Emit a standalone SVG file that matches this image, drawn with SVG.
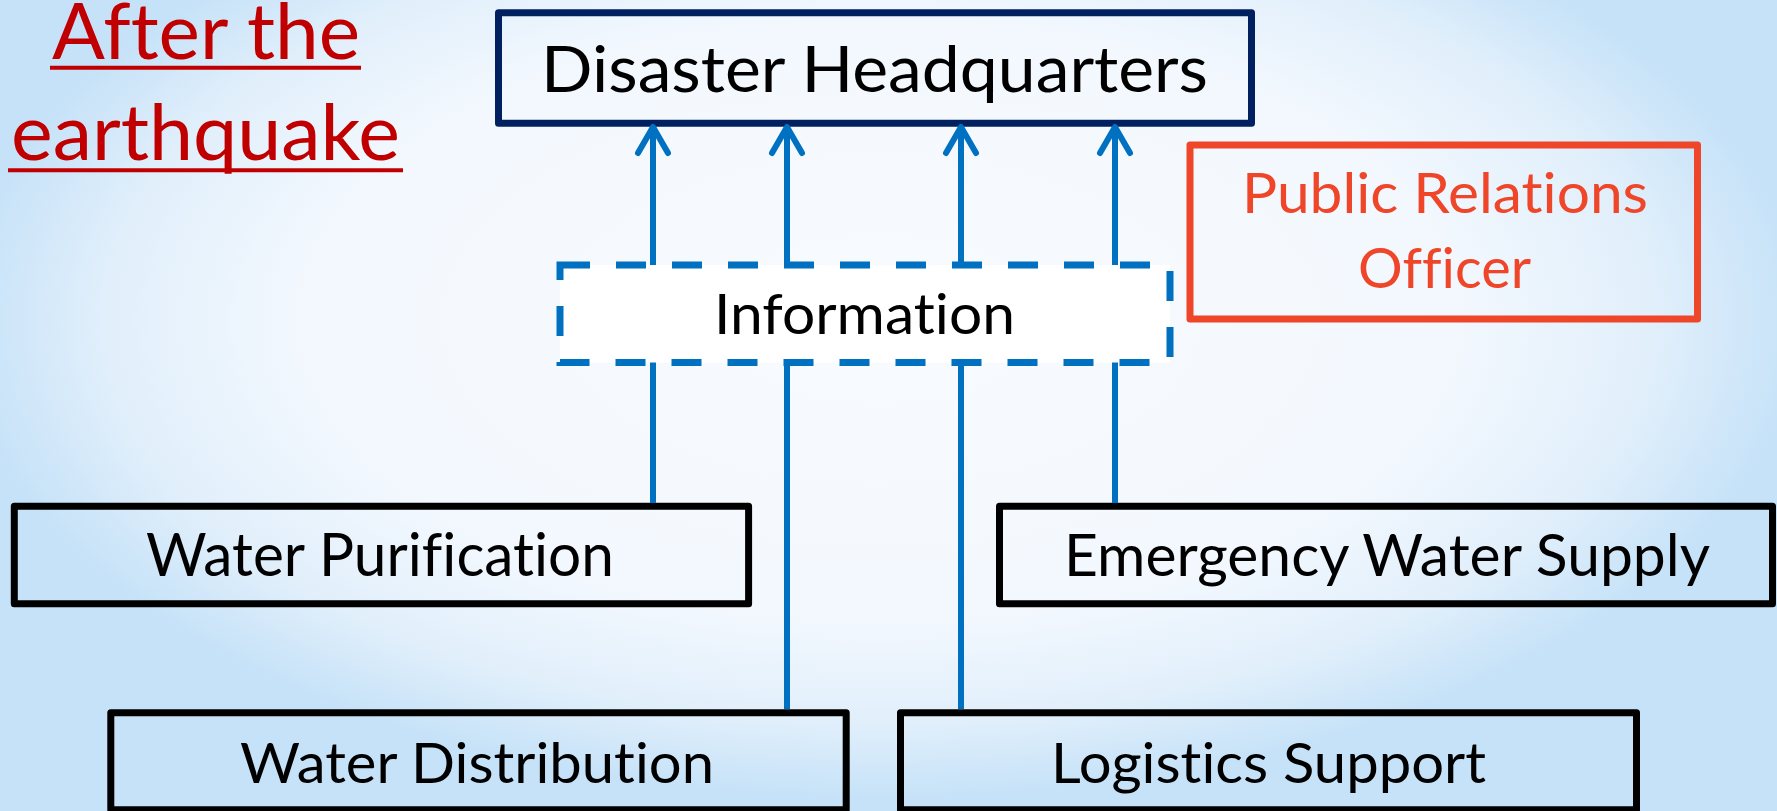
<svg xmlns="http://www.w3.org/2000/svg" width="1777" height="811" viewBox="0 0 1777 811">
  <style>
    .lbl { font-family: Lato, "Open Sans", "Liberation Sans", sans-serif; fill: #000; font-variant-ligatures: none; }
    .box { fill: none; stroke: #000; stroke-width: 7; stroke-linejoin: round; }
    .conn { fill: none; stroke: #0070C0; stroke-width: 6; }
    .title { font-family: Lato, "Open Sans", "Liberation Sans", sans-serif; fill: #C00000; font-size: 77px; font-variant-ligatures: none; }
    .uline { stroke: #C00000; stroke-width: 4; }
    .pr { fill: #EF4529; }
  </style>
  <defs>
    <radialGradient id="bg" gradientUnits="userSpaceOnUse" cx="880" cy="320" r="920" gradientTransform="translate(880 320) scale(1 0.52) translate(-880 -320)">
      <stop offset="0" stop-color="#F8FBFE"/>
      <stop offset="0.62" stop-color="#F3F8FE"/>
      <stop offset="0.84" stop-color="#E1EFFB"/>
      <stop offset="1" stop-color="#C6E2F8"/>
    </radialGradient>
    <marker id="arrow" markerUnits="userSpaceOnUse" markerWidth="60" markerHeight="60" viewBox="-40 -30 60 60" refX="0" refY="0" orient="auto" overflow="visible">
      <path d="M-26,-15 L0,0 L-26,15" fill="none" stroke="#0070C0" stroke-width="6" stroke-linecap="round" stroke-linejoin="round"/>
    </marker>
  </defs>

  <rect x="0" y="0" width="1777" height="811" fill="url(#bg)"/>

  <g id="title">
    <text class="title" x="52" y="59" textLength="308" lengthAdjust="spacingAndGlyphs">After the</text>
    <line class="uline" x1="50" y1="67.7" x2="361" y2="67.7"/>
    <text class="title" x="11" y="160" textLength="389" lengthAdjust="spacingAndGlyphs">earthquake</text>
    <line class="uline" x1="8" y1="170.3" x2="403" y2="170.3"/>
  </g>

  <g id="disaster-headquarters">
    <rect x="498.5" y="12.8" width="753" height="110.4" fill="none" stroke="#002060" stroke-width="7" stroke-linejoin="round"/>
    <text class="lbl" x="541" y="91.7" font-size="63" textLength="667" lengthAdjust="spacingAndGlyphs">Disaster Headquarters</text>
  </g>

  <g id="public-relations-officer">
    <rect x="1190" y="145" width="507.5" height="174" fill="none" stroke="#EF4529" stroke-width="7" stroke-linejoin="round"/>
    <text class="lbl pr" x="1242" y="213.3" font-size="56" textLength="406" lengthAdjust="spacingAndGlyphs">Public Relations</text>
    <text class="lbl pr" x="1358" y="288.3" font-size="56" textLength="173" lengthAdjust="spacingAndGlyphs">Officer</text>
  </g>

  <g id="water-purification">
    <rect class="box" x="14.3" y="506.2" width="734.3" height="97.6"/>
    <text class="lbl" x="146" y="576" font-size="60" textLength="468" lengthAdjust="spacingAndGlyphs">Water Purification</text>
  </g>

  <g id="emergency-water-supply">
    <rect class="box" x="999.5" y="506.2" width="773" height="97.6"/>
    <text class="lbl" x="1064" y="576" font-size="59" textLength="646" lengthAdjust="spacingAndGlyphs">Emergency Water Supply</text>
  </g>

  <g id="water-distribution">
    <rect class="box" x="110.8" y="712.8" width="735.4" height="97"/>
    <text class="lbl" x="240" y="783" font-size="57" textLength="474" lengthAdjust="spacingAndGlyphs">Water Distribution</text>
  </g>

  <g id="logistics-support">
    <rect class="box" x="900.5" y="712.8" width="736" height="97"/>
    <text class="lbl" x="1051" y="783" font-size="57" textLength="435" lengthAdjust="spacingAndGlyphs">Logistics Support</text>
  </g>

  <g id="connectors">
    <line class="conn" x1="653" y1="503" x2="653" y2="127" marker-end="url(#arrow)"/>
    <line class="conn" x1="787" y1="709" x2="787" y2="127" marker-end="url(#arrow)"/>
    <line class="conn" x1="961" y1="709" x2="961" y2="127" marker-end="url(#arrow)"/>
    <line class="conn" x1="1115" y1="503" x2="1115" y2="127" marker-end="url(#arrow)"/>
  </g>

  <g id="information">
    <rect x="560" y="265" width="610" height="97.5" fill="#FFFFFF" stroke="#0070C0" stroke-width="7" stroke-dasharray="30 26"/>
    <text class="lbl" x="714" y="334.3" font-size="57" textLength="301" lengthAdjust="spacingAndGlyphs">Information</text>
  </g>
</svg>
